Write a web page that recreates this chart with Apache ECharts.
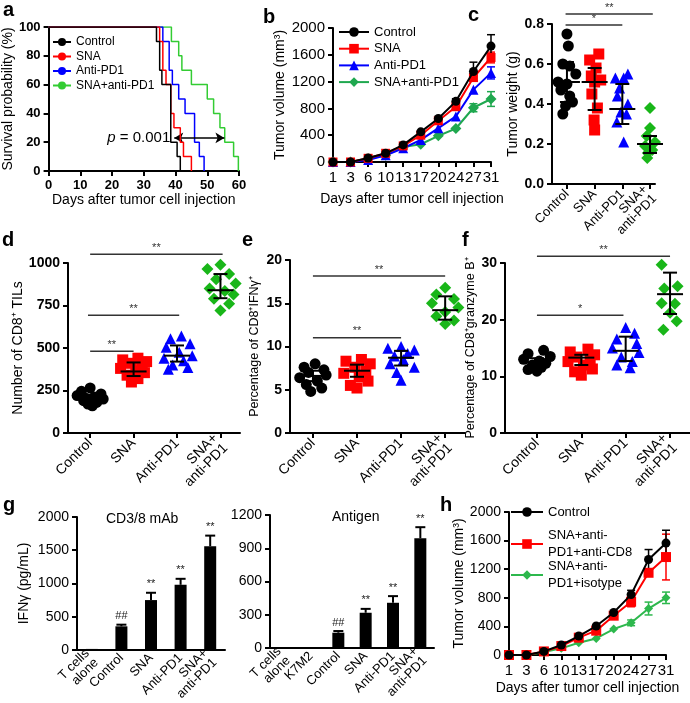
<!DOCTYPE html>
<html><head><meta charset="utf-8">
<script src="https://cdn.jsdelivr.net/npm/echarts@6/dist/echarts.min.js"></script>
<style>html,body{margin:0;padding:0;background:#fff}#c{width:690px;height:703px}</style>
</head><body><div id="c"></div>
<script>
// ================= DATA =================
// Panel a: Kaplan-Meier survival, [day, percent]
const survControl = [[0,100],[34,90],[35,70],[35.7,60],[38.5,20],[40.5,10],[41.5,0]];
const survSNA     = [[0,100],[35,90],[36,70],[37,60],[38.5,40],[39.5,30],[41.5,20],[42.5,10],[45,0]];
const survAnti    = [[0,100],[36,90],[38,70],[39,60],[41,50],[43,40],[46,20],[47.5,10],[49,0]];
const survCombo   = [[0,100],[38.7,90],[41,80],[42,70],[45,60],[50,50],[52,40],[54,30],[55.5,20],[58.3,10],[59.8,0]];
const pArrow = [39.6, 55.4, 23];   // from day, to day, level
const pText = '0.001';
const survNames = ['Control','SNA','Anti-PD1','SNA+anti-PD1'];

// Panel b: tumor volume
const bDays = ['1','3','6','10','13','17','20','24','27','31'];
const bControl = [0, 0, 60, 130, 255, 450, 650, 905, 1350, 1730];
const bSNA     = [0, 0, 55, 130, 240, 400, 615, 825, 1260, 1560];
const bAnti    = [0, 0, 30, 100, 205, 330, 505, 680, 1080, 1330];
const bCombo   = [0, 0, 50, 100, 225, 265, 390, 500, 810, 940];
const bControlErr = [0,0,0,0,0,0,0,40,140,170];
const bSNAErr     = [0,0,0,0,0,0,0,0,0,80];
const bAntiErr    = [0,0,0,0,0,0,0,0,0,90];
const bComboErr   = [0,0,0,0,0,0,0,0,60,110];
const bNames = ['Control','SNA','Anti-PD1','SNA+anti-PD1'];

// Dot plots c-f
const dotCats = ['Control','SNA','Anti-PD1','SNA+\nanti-PD1'];
const cVals = [
 [0.75, 0.69, 0.60, 0.59, 0.55, 0.51, 0.50, 0.47, 0.44, 0.41, 0.39, 0.35],
 [0.65, 0.62, 0.58, 0.54, 0.52, 0.51, 0.45, 0.38, 0.32, 0.27],
 [0.55, 0.53, 0.53, 0.48, 0.44, 0.40, 0.36, 0.35, 0.31, 0.21],
 [0.38, 0.28, 0.24, 0.21, 0.19, 0.17, 0.155, 0.13]];
const cJit = [
 [0.0, 0.05, -0.15, 0.1, 0.32, -0.32, 0.0, -0.22, 0.1, 0.2, -0.05, -0.15],
 [0.15, -0.18, 0.05, -0.12, 0.22, 0.0, -0.1, 0.1, -0.02, 0.0],
 [0.2, -0.25, 0.05, -0.1, -0.18, 0.2, -0.05, 0.15, -0.2, 0.05],
 [0.0, 0.0, -0.12, 0.18, -0.18, 0.08, -0.08, -0.1]];
const cMean = [0.51, 0.51, 0.375, 0.20], cLo = [0.41, 0.37, 0.30, 0.155], cHi = [0.61, 0.58, 0.50, 0.24];
const cSig = [[0.95, 4.1, 0.85, '**'], [0.95, 3.0, 0.795, '*']];

const dVals = [
 [265, 245, 230, 220, 212, 205, 200, 190, 180, 170, 160],
 [440, 430, 420, 410, 395, 380, 365, 355, 340, 320, 300],
 [570, 555, 525, 505, 475, 455, 440, 425, 400, 385, 375],
 [990, 965, 935, 905, 880, 850, 835, 815, 790, 760, 720]];
const dJit = [
 [0.0, -0.2, 0.25, -0.3, 0.1, -0.1, 0.3, -0.15, 0.15, -0.05, 0.05],
 [0.1, -0.25, 0.3, -0.05, 0.2, -0.3, 0.05, 0.25, -0.15, 0.1, -0.05],
 [0.1, -0.15, 0.3, -0.25, 0.05, 0.35, -0.3, 0.15, -0.1, 0.25, -0.2],
 [0.0, -0.3, 0.2, -0.1, 0.35, -0.25, 0.1, 0.3, -0.15, 0.2, 0.0]];
const dMean = [210, 362, 455, 840], dLo = [195, 335, 420, 793], dHi = [225, 415, 515, 935];
const dSig = [[1, 4.05, 1051, '**'], [0.95, 3.05, 692, '**'], [1, 2, 481, '**']];

const eVals = [
 [8.0, 7.6, 7.3, 7.0, 6.7, 6.4, 6.0, 5.6, 5.2, 4.8],
 [8.5, 8.3, 8.0, 7.6, 7.2, 6.9, 6.5, 6.0, 5.5, 5.2],
 [10.0, 9.8, 9.6, 9.2, 8.9, 8.5, 8.0, 7.6, 7.0, 6.1],
 [16.8, 16.0, 15.5, 15.0, 14.5, 14.0, 13.5, 13.0, 12.6]];
const eJit = [
 [0.05, -0.2, 0.25, -0.1, 0.3, -0.3, 0.1, -0.15, 0.2, -0.05],
 [0.1, -0.25, 0.3, -0.05, 0.2, -0.3, 0.05, 0.25, -0.15, 0.0],
 [0.0, -0.3, 0.3, 0.15, -0.15, 0.05, -0.25, 0.3, -0.1, 0.0],
 [0.0, -0.2, 0.2, -0.3, 0.3, 0.0, -0.2, 0.2, 0.0]];
const eMean = [6.6, 7.2, 8.7, 14.2], eLo = [6.0, 6.5, 7.8, 13.1], eHi = [7.2, 7.9, 9.5, 15.8];
const eSig = [[1, 4, 18.15, '**'], [1, 3, 11.0, '**']];

const fVals = [
 [14.6, 14.0, 13.5, 13.0, 12.7, 12.3, 12.0, 11.6, 11.2, 10.9],
 [14.8, 14.3, 13.8, 13.4, 13.0, 12.6, 12.0, 11.3, 10.8, 10.2],
 [18.6, 17.6, 16.6, 15.8, 15.0, 14.2, 13.4, 12.6, 12.0, 11.5],
 [30.1, 29.7, 25.9, 25.5, 22.9, 22.8, 21.2, 19.7, 18.2]];
const fJit = [
 [0.15, -0.2, 0.3, -0.3, 0.05, 0.2, -0.1, 0.1, -0.2, 0.0],
 [0.15, -0.25, 0.3, -0.1, 0.2, -0.3, 0.05, 0.25, -0.15, 0.0],
 [0.0, 0.2, -0.2, 0.25, -0.3, 0.3, -0.1, 0.15, -0.2, 0.1],
 [0.17, -0.19, 0.17, -0.13, -0.19, 0.11, 0.0, 0.15, -0.15]];
const fMean = [12.5, 13.3, 14.5, 24.5], fLo = [11.8, 12.0, 12.7, 21.0], fHi = [13.2, 13.8, 17.0, 28.3];
const fSig = [[1, 4, 31.2, '**'], [1, 2.95, 20.8, '*']];

// Panel g: IFN-gamma bars
const g1Cats = ['T cells\nalone','Control','SNA','Anti-PD1','SNA+\nanti-PD1'];
const g1Vals = [15, 355, 750, 980, 1560];
const g1Err  = [0, 25, 110, 90, 160];
const g1Marks = ['', '##', '**', '**', '**'];
const g2Cats = ['T cells\nalone','K7M2','Control','SNA','Anti-PD1','SNA+\nanti-PD1'];
const g2Vals = [6, 6, 138, 318, 408, 990];
const g2Err  = [0, 0, 15, 35, 60, 100];
const g2Marks = ['', '', '##', '**', '**', '**'];

// Panel h: tumor volume with CD8 depletion
const hDays = ['1','3','6','10','13','17','20','24','27','31'];
const hControl = [0, 0, 50, 140, 265, 405, 595, 845, 1335, 1565];
const hCD8     = [0, 0, 50, 125, 242, 340, 550, 745, 1150, 1370];
const hIso     = [0, 0, 40, 93, 172, 232, 363, 450, 650, 800];
const hControlErr = [0,0,0,0,0,0,0,60,140,180];
const hCD8Err     = [0,0,0,0,0,0,0,70,0,320];
const hIsoErr     = [0,0,0,0,0,0,0,40,90,80];
const hNames = ['Control','SNA+anti-PD1+anti-CD8','SNA+anti-PD1+isotype'];
const hLegendText = ['Control','SNA+anti-\nPD1+anti-CD8','SNA+anti-\nPD1+isotype'];

// ================= STYLE / BUILD =================
const F = 'Liberation Sans';
function merge(a, b) {
  const o = Object.assign({}, a);
  for (const k in b) {
    const v = b[k];
    if (v && typeof v === 'object' && !Array.isArray(v) && a && a[k] && typeof a[k] === 'object' && !Array.isArray(a[k])) o[k] = merge(a[k], v);
    else o[k] = v;
  }
  return o;
}
const AX = {
  axisLine:{show:true, onZero:false, lineStyle:{color:'#000', width:2}},
  axisTick:{show:true, length:5, lineStyle:{color:'#000', width:2}},
  splitLine:{show:false},
  axisLabel:{color:'#000', fontFamily:F, fontSize:14, hideOverlap:false, formatter:v => String(v)},
  nameTextStyle:{color:'#000', fontFamily:F, fontSize:14},
  nameLocation:'middle'
};
const BOLD = {axisLabel:{fontWeight:'bold'}};
const grids = [
  {left:45, top:27, width:194, height:144},   // a
  {left:333, top:28, width:158, height:134},  // b
  {left:552, top:24, width:103, height:160},  // c
  {left:68, top:263, width:172, height:170},  // d
  {left:290, top:260, width:175, height:173}, // e
  {left:505, top:263, width:185, height:170}, // f
  {left:77, top:517, width:148, height:133},  // g1
  {left:270, top:515, width:164, height:133}, // g2
  {left:509, top:512, width:157, height:143}  // h
];
function dotX(gi, min, max, fs) {
  return merge(AX, {type:'value', gridIndex:gi, min:min, max:max,
    axisTick:{customValues:[1,2,3,4]},
    axisLabel:{customValues:[1,2,3,4], formatter:v => dotCats[Math.round(v)-1] || '', rotate:45, fontSize:fs, margin:8,
      showMinLabel:true, showMaxLabel:true}});
}
const xAxes = [
  merge(AX, merge(BOLD, {type:'value', gridIndex:0, min:0, max:60, interval:10, name:'Days after tumor cell injection', nameGap:21, axisLabel:{fontSize:13}})),
  merge(AX, {type:'category', gridIndex:1, data:bDays, boundaryGap:false, name:'Days after tumor cell injection', nameGap:30, axisLabel:{interval:0, fontSize:15}, axisTick:{interval:0}}),
  dotX(2, 0.46, 4.18, 13),
  dotX(3, 0.49, 4.45, 14),
  dotX(4, 0.48, 4.45, 14),
  dotX(5, 0.28, 4.45, 14),
  merge(AX, {type:'category', gridIndex:6, data:g1Cats, axisTick:{show:false}, axisLabel:{interval:0, rotate:45, fontSize:13, margin:6}}),
  merge(AX, {type:'category', gridIndex:7, data:g2Cats, axisTick:{show:false}, axisLabel:{interval:0, rotate:45, fontSize:13, margin:6}}),
  merge(AX, {type:'category', gridIndex:8, data:hDays, boundaryGap:false, name:'Days after tumor cell injection', nameGap:26, axisLabel:{interval:0, fontSize:15}, axisTick:{interval:0}})
];
const yAxes = [
  merge(AX, merge(BOLD, {type:'value', gridIndex:0, min:0, max:100, interval:20, name:'Survival probability (%)', nameGap:24, axisLabel:{fontSize:13}})),
  merge(AX, {type:'value', gridIndex:1, min:0, max:2000, interval:400, name:'Tumor volume (mm³)', nameGap:46, axisLabel:{fontSize:15}}),
  merge(AX, merge(BOLD, {type:'value', gridIndex:2, min:0, max:0.8, interval:0.2, name:'Tumor weight (g)', nameGap:29, axisLabel:{formatter:v => v.toFixed(1)}})),
  merge(AX, merge(BOLD, {type:'value', gridIndex:3, min:0, max:1000, interval:250, name:'Number of CD8⁺ TILs', nameGap:43})),
  merge(AX, merge(BOLD, {type:'value', gridIndex:4, min:0, max:20, interval:5, name:'Percentage of CD8⁺IFNγ⁺', nameGap:29, nameTextStyle:{fontSize:12.5}})),
  merge(AX, merge(BOLD, {type:'value', gridIndex:5, min:0, max:30, interval:10, name:'Percentage of CD8⁺granzyme B⁺', nameGap:19, nameTextStyle:{fontSize:12.5}})),
  merge(AX, {type:'value', gridIndex:6, min:0, max:2000, interval:500, name:'IFNγ (pg/mL)', nameGap:46}),
  merge(AX, {type:'value', gridIndex:7, min:0, max:1200, interval:300}),
  merge(AX, {type:'value', gridIndex:8, min:0, max:2000, interval:400, name:'Tumor volume (mm³)', nameGap:43})
];

const series = [];
// ---- a
const aColors = ['#000000','#ff0000','#0000ff','#33cc33'];
const surv = [survControl, survSNA, survAnti, survCombo];
[3,2,1,0].forEach(i => {
  const s = {type:'line', name:'a:'+survNames[i], xAxisIndex:0, yAxisIndex:0, step:'end', data:surv[i],
    symbol:'none', lineStyle:{color:aColors[i], width:1.5}, itemStyle:{color:aColors[i]}, z:3+(3-i)};
  if (i === 0) {
    s.markLine = {silent:true, symbol:['arrow','arrow'], symbolSize:[8,9],
      lineStyle:{color:'#000', width:1.5, type:'solid'},
      label:{show:true, position:'start', distance:4, formatter:'{i|p} = ' + pText, color:'#000', fontFamily:F, fontSize:15,
        rich:{i:{fontStyle:'italic', fontFamily:F, fontSize:15, color:'#000'}}},
      data:[[{coord:[pArrow[0], pArrow[2]]}, {coord:[pArrow[1], pArrow[2]]}]]};
  }
  series.push(s);
});
// ---- line + error helper
function lineErr(xi, color, vals, errs) {
  return {type:'custom', xAxisIndex:xi, yAxisIndex:xi, z:2,
    data: vals.map((v, i) => [i, v, errs[i]]),
    renderItem:(params, api) => {
      const e = api.value(2); if (!e) return;
      const i = api.value(0), v = api.value(1);
      const lo = api.coord([i, v - e]), hi = api.coord([i, v + e]);
      const st = {stroke:color, lineWidth:1.5};
      return {type:'group', children:[
        {type:'line', shape:{x1:lo[0], y1:lo[1], x2:hi[0], y2:hi[1]}, style:st},
        {type:'line', shape:{x1:lo[0]-4, y1:lo[1], x2:lo[0]+4, y2:lo[1]}, style:st},
        {type:'line', shape:{x1:hi[0]-4, y1:hi[1], x2:hi[0]+4, y2:hi[1]}, style:st}]};
    }};
}
// ---- b
const bColors = ['#000000','#ff0000','#0000ff','#1fa84f'];
const bSyms = ['circle','rect','triangle','diamond'];
const bSizes = [9, 9, 10, 11];
const bData = [bControl, bSNA, bAnti, bCombo];
const bErr = [bControlErr, bSNAErr, bAntiErr, bComboErr];
[3,2,1,0].forEach(i => {
  series.push(lineErr(1, bColors[i], bData[i], bErr[i]));
  series.push({type:'line', name:'b:'+bNames[i], xAxisIndex:1, yAxisIndex:1, data:bData[i],
    symbol:bSyms[i], symbolSize:bSizes[i], showAllSymbol:true,
    lineStyle:{color:bColors[i], width:2}, itemStyle:{color:bColors[i]}, z:3+(3-i)});
});
// ---- dot plots
const dColors = ['#000000','#ff0000','#0000ff','#19b619'];
const dSyms = ['circle','rect','triangle','diamond'];
const dSizes = [11, 11, 11, 12];
function dotPanel(xi, vals, jit, mean, lo, hi, sig) {
  vals.forEach((arr, g) => {
    series.push({type:'scatter', xAxisIndex:xi, yAxisIndex:xi, symbol:dSyms[g], symbolSize:dSizes[g],
      itemStyle:{color:dColors[g], opacity:1}, z:2,
      data: arr.map((v, k) => [g + 1 + jit[g][k], v])});
  });
  series.push({type:'custom', xAxisIndex:xi, yAxisIndex:xi, z:5,
    data: mean.map((m, g) => [g + 1, m, lo[g], hi[g]]),
    renderItem:(params, api) => {
      const x = api.value(0);
      const m = api.coord([x, api.value(1)]), l = api.coord([x, api.value(2)]), h = api.coord([x, api.value(3)]);
      const st = {stroke:'#000', lineWidth:2};
      return {type:'group', children:[
        {type:'line', shape:{x1:m[0]-13, y1:m[1], x2:m[0]+13, y2:m[1]}, style:st},
        {type:'line', shape:{x1:m[0], y1:l[1], x2:m[0], y2:h[1]}, style:st},
        {type:'line', shape:{x1:m[0]-7, y1:l[1], x2:m[0]+7, y2:l[1]}, style:st},
        {type:'line', shape:{x1:m[0]-7, y1:h[1], x2:m[0]+7, y2:h[1]}, style:st}]};
    }});
  series.push({type:'custom', xAxisIndex:xi, yAxisIndex:xi, z:5, clip:false,
    data: sig.map(s => [s[0], s[2], s[1]]),
    renderItem:(params, api) => {
      const s = sig[params.dataIndex];
      const a = api.coord([s[0], s[2]]), b = api.coord([s[1], s[2]]);
      return {type:'group', children:[
        {type:'line', shape:{x1:a[0], y1:a[1], x2:b[0], y2:b[1]}, style:{stroke:'#333', lineWidth:1.5}},
        {type:'text', x:(a[0]+b[0])/2, y:a[1]-1, style:{text:s[3], textAlign:'center', textVerticalAlign:'bottom',
          font:'11px "Liberation Sans"', fill:'#333'}}]};
    }});
}
dotPanel(2, cVals, cJit, cMean, cLo, cHi, cSig);
dotPanel(3, dVals, dJit, dMean, dLo, dHi, dSig);
dotPanel(4, eVals, eJit, eMean, eLo, eHi, eSig);
dotPanel(5, fVals, fJit, fMean, fLo, fHi, fSig);
// ---- g bars
function barPanel(xi, vals, errs, marks) {
  series.push({type:'bar', xAxisIndex:xi, yAxisIndex:xi, data:vals, barWidth:12, itemStyle:{color:'#000'}, z:2});
  series.push({type:'custom', xAxisIndex:xi, yAxisIndex:xi, z:3, clip:false,
    data: vals.map((v, i) => [i, v, errs[i]]),
    renderItem:(params, api) => {
      const i = api.value(0), v = api.value(1), e = api.value(2);
      const top = api.coord([i, v]), cap = api.coord([i, v + e]);
      const st = {stroke:'#000', lineWidth:2};
      const ch = [];
      if (e > 0) {
        ch.push({type:'line', shape:{x1:top[0], y1:top[1], x2:cap[0], y2:cap[1]}, style:st});
        ch.push({type:'line', shape:{x1:cap[0]-5, y1:cap[1], x2:cap[0]+5, y2:cap[1]}, style:st});
      }
      const mk = marks[params.dataIndex];
      if (mk) ch.push({type:'text', x:cap[0], y:cap[1]-3, style:{text:mk, textAlign:'center', textVerticalAlign:'bottom',
        font:'11px "Liberation Sans"', fill:'#222'}});
      return {type:'group', children:ch};
    }});
}
barPanel(6, g1Vals, g1Err, g1Marks);
barPanel(7, g2Vals, g2Err, g2Marks);
// ---- h
const hColors = ['#000000','#ff0000','#2db84d'];
const hSyms = ['circle','rect','diamond'];
const hSizes = [9, 10, 9];
const hData = [hControl, hCD8, hIso];
const hErr = [hControlErr, hCD8Err, hIsoErr];
[2,1,0].forEach(i => {
  series.push(lineErr(8, hColors[i], hData[i], hErr[i]));
  series.push({type:'line', name:'h:'+hNames[i], xAxisIndex:8, yAxisIndex:8, data:hData[i],
    symbol:hSyms[i], symbolSize:hSizes[i], showAllSymbol:true,
    lineStyle:{color:hColors[i], width:2}, itemStyle:{color:hColors[i]}, z:3+(2-i)});
});

const legTxt = {color:'#000', fontFamily:F};
const legends = [
  {orient:'vertical', left:52, top:35, padding:0, itemWidth:18, itemHeight:10, itemGap:0.5,
   data:survNames.map(n => 'a:'+n), formatter:n => n.slice(2), textStyle:merge(legTxt, {fontSize:12, lineHeight:14})},
  {orient:'vertical', left:338, top:24, padding:0, itemWidth:30, itemHeight:12, itemGap:0.7,
   data:bNames.map(n => 'b:'+n), formatter:n => n.slice(2), textStyle:merge(legTxt, {fontSize:13, lineHeight:16})},
  {orient:'vertical', left:510, top:503.5, padding:0, itemWidth:32, itemHeight:12,
   data:['h:'+hNames[0]], formatter:() => hLegendText[0], textStyle:merge(legTxt, {fontSize:13, lineHeight:17})},
  {orient:'vertical', left:510, top:518.5, padding:0, itemWidth:32, itemHeight:12,
   data:[{name:'h:'+hNames[1], textStyle:{padding:[17,0,0,0]}}], formatter:() => hLegendText[1], textStyle:merge(legTxt, {fontSize:13, lineHeight:17})},
  {orient:'vertical', left:510, top:549.5, padding:0, itemWidth:32, itemHeight:12,
   data:[{name:'h:'+hNames[2], textStyle:{padding:[17,0,0,0]}}], formatter:() => hLegendText[2], textStyle:merge(legTxt, {fontSize:13, lineHeight:17})}
];
legends.forEach(l => { l.selectedMode = false; });

const LET = {fontFamily:F, fontSize:20, fontWeight:'bold', color:'#000'};
const SUB = {fontFamily:F, fontSize:14, fontWeight:'normal', color:'#000'};
const titles = [
  {text:'a', left:3, top:0, textStyle:LET}, {text:'b', left:263, top:7, textStyle:LET},
  {text:'c', left:468, top:5, textStyle:LET}, {text:'d', left:2, top:230, textStyle:LET},
  {text:'e', left:242, top:230, textStyle:LET}, {text:'f', left:462, top:230, textStyle:LET},
  {text:'g', left:3, top:495, textStyle:LET}, {text:'h', left:440, top:495, textStyle:LET},
  {text:'CD3/8 mAb', left:106, top:512, textStyle:SUB}, {text:'Antigen', left:332, top:510, textStyle:SUB}
].map(t => Object.assign({padding:0}, t));

const chart = echarts.init(document.getElementById('c'), null, {renderer:'canvas'});
chart.setOption({
  animation:false, backgroundColor:'#fff',
  textStyle:{fontFamily:F},
  title:titles, legend:legends, grid:grids, xAxis:xAxes, yAxis:yAxes, series:series
});
</script></body></html>
